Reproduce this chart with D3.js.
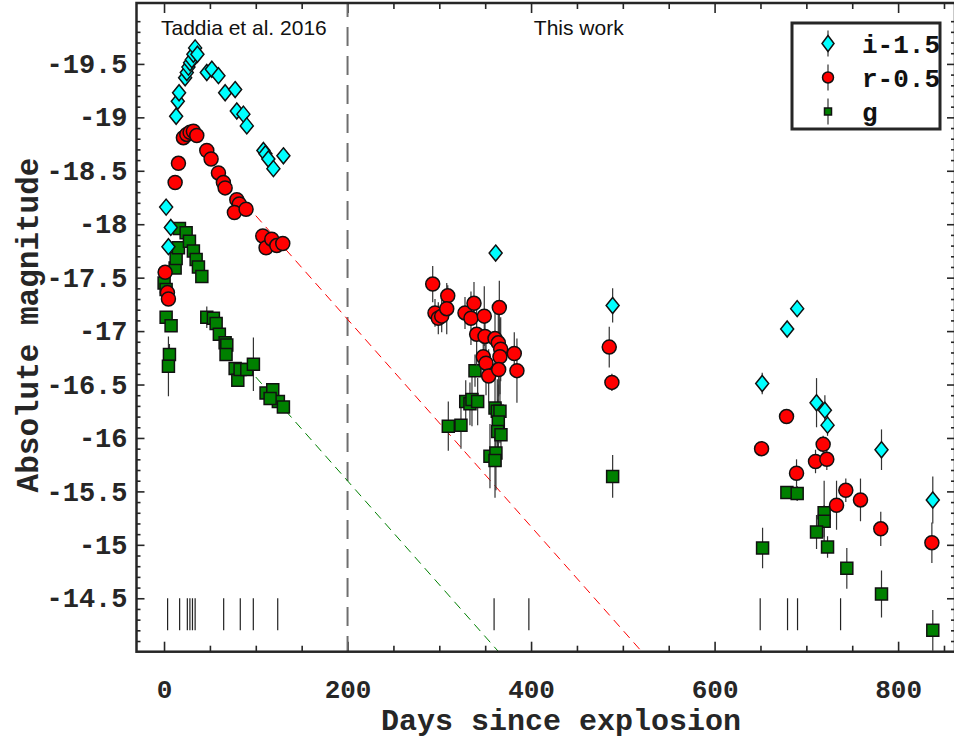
<!DOCTYPE html>
<meta charset="utf-8">
<style>

body {
  margin: 0;
  background: #fff;
}

svg {
  display: block;
}

.frame {
  fill: none;
  stroke: #262626;
  stroke-width: 2.5px;
}

.axis path {
  display: none;
}

.axis line {
  stroke: #262626;
  stroke-width: 1.6px;
}

.axis text {
  font-family: "Liberation Mono", "Courier New", monospace;
  font-weight: bold;
  font-size: 27px;
  fill: #262626;
}

.axis.xlab text {
  font-size: 26px;
}

.title {
  font-family: "Liberation Mono", "Courier New", monospace;
  font-weight: bold;
  font-size: 31px;
  fill: #262626;
}

.note {
  font-family: "Liberation Sans", Arial, sans-serif;
  font-size: 21px;
  fill: #111;
}

.err {
  stroke: #333;
  stroke-width: 1.2px;
}

.mark {
  stroke: #111;
  stroke-width: 1.5px;
}

.legend text {
  font-family: "Liberation Mono", "Courier New", monospace;
  font-weight: bold;
  font-size: 26px;
  fill: #111;
}

</style>
<body>
<script src="https://d3js.org/d3.v7.min.js"></script>
<script>

// i band, shifted by -1.5
var iDays = [2.3, 7.4, 4.8, 13.2, 15.0, 16.4, 23.0, 24.8, 26.6, 28.4, 30.3, 32.0, 33.9, 36.4,
             46.6, 52.1, 59.3, 66.6, 77.5, 79.3, 86.5, 90.2, 108.3, 110.5, 113.7, 119.2, 130.1,
             361.4, 488.9, 651.9, 679.1, 690.0, 711.1, 720.2, 723.1, 781.9, 837.8];
var iMag = [-18.16, -17.97, -17.79, -19.01, -19.15, -19.23, -19.37, -19.42, -19.47, -19.51, -19.54, -19.59, -19.65, -19.59,
            -19.42, -19.45, -19.39, -19.23, -19.26, -19.06, -19.03, -18.92, -18.69, -18.66, -18.61, -18.52, -18.64,
            -17.73, -17.24, -16.51, -17.02, -17.21, -16.33, -16.26, -16.12, -15.89, -15.42];
var iErr = [0.03, 0.03, 0.03, 0.03, 0.03, 0.03, 0.03, 0.03, 0.03, 0.03, 0.03, 0.03, 0.03, 0.03,
            0.03, 0.03, 0.03, 0.03, 0.03, 0.03, 0.03, 0.03, 0.03, 0.03, 0.03, 0.03, 0.03,
            0.05, 0.16, 0.10, 0.05, 0.05, 0.23, 0.14, 0.10, 0.19, 0.22];

// r band, shifted by -0.5
var rDays = [1.2, 3.7, 4.8, 12.1, 15.7, 21.1, 24.8, 28.4, 32.0, 35.7, 46.6, 51.3, 59.3, 64.7, 66.6,
             79.3, 82.1, 76.7, 89.4, 107.6, 111.2, 117.4, 122.9, 129.4,
             292.8, 309.2, 295.3, 298.9, 302.6, 308.1, 328.0, 334.5, 337.8, 349.0, 340.7, 349.8, 360.7,
             365.4, 364.3, 366.9, 366.1, 347.9, 350.9, 353.8, 364.7, 381.7, 384.6,
             485.2, 488.1, 651.2, 678.4, 689.3, 718.3, 710.0, 722.3, 743.0, 732.9, 759.0, 781.1, 836.8];
var rMag = [-17.55, -17.36, -17.30, -18.39, -18.57, -18.81, -18.84, -18.86, -18.87, -18.83, -18.69, -18.61, -18.48, -18.39, -18.34,
            -18.23, -18.19, -18.11, -18.14, -17.89, -17.78, -17.86, -17.80, -17.82,
            -17.44, -17.33, -17.17, -17.12, -17.14, -17.21, -17.17, -17.12, -17.26, -17.14, -16.97, -16.95, -16.93,
            -17.22, -16.89, -16.83, -16.76, -16.76, -16.70, -16.58, -16.64, -16.79, -16.63,
            -16.85, -16.52, -15.90, -16.20, -15.67, -15.94, -15.78, -15.80, -15.51, -15.37, -15.42, -15.15, -15.02];
var rErr = [0.03, 0.03, 0.03, 0.03, 0.03, 0.03, 0.03, 0.03, 0.03, 0.03, 0.03, 0.03, 0.03, 0.03, 0.03,
            0.03, 0.03, 0.03, 0.03, 0.03, 0.03, 0.03, 0.03, 0.03,
            0.17, 0.10, 0.13, 0.15, 0.15, 0.24, 0.15, 0.25, 0.20, 0.28, 0.30, 0.20, 0.25,
            0.25, 0.30, 0.30, 0.35, 0.20, 0.30, 0.25, 0.25, 0.20, 0.30,
            0.19, 0.08, 0.04, 0.06, 0.13, 0.08, 0.11, 0.10, 0.11, 0.23, 0.20, 0.16, 0.19];

// g band
var gDays = [0.1, 2.3, 2.3, 7.7, 5.9, 4.8, 12.1, 13.2, 15.7, 16.8, 24.1, 27.7, 32.0, 35.0, 37.5,
             41.2, 46.6, 53.8, 56.8, 60.3, 66.6, 68.4, 67.6, 77.5, 80.4, 82.9, 90.2, 97.4, 111.2, 118.5,
             124.6, 130.1, 115.6,
             338.9, 309.8, 323.6, 328.8, 333.4, 335.6, 341.8, 360.7, 363.2, 366.1, 364.3, 363.6, 367.2,
             355.2, 361.7, 360.7,
             488.9, 652.3, 678.8, 690.0, 719.4, 719.4, 711.1, 723.1, 744.1, 781.9, 837.8];
var gMag = [-17.45, -17.39, -17.13, -17.05, -16.78, -16.67, -17.59, -17.68, -17.78, -17.96, -17.92, -17.84, -17.75, -17.67, -17.60,
            -17.51, -17.13, -17.12, -17.07, -16.97, -16.89, -16.87, -16.78, -16.65, -16.54, -16.64, -16.64, -16.69, -16.42, -16.45,
            -16.34, -16.29, -16.37,
            -16.63, -16.11, -16.12, -16.34, -16.32, -16.36, -16.34, -16.28, -16.25, -16.25, -16.15, -16.06, -16.03,
            -15.83, -15.86, -15.79,
            -15.64, -14.97, -15.49, -15.48, -15.30, -15.22, -15.12, -14.98, -14.78, -14.54, -14.20];
var gErr = [0.03, 0.03, 0.03, 0.03, 0.10, 0.28, 0.03, 0.03, 0.03, 0.03, 0.03, 0.03, 0.03, 0.03, 0.03,
            0.03, 0.10, 0.03, 0.03, 0.03, 0.03, 0.03, 0.03, 0.03, 0.03, 0.03, 0.03, 0.25, 0.03, 0.03,
            0.03, 0.03, 0.03,
            0.15, 0.23, 0.22, 0.20, 0.20, 0.25, 0.22, 0.30, 0.30, 0.30, 0.35, 0.30, 0.30,
            0.30, 0.35, 0.35,
            0.20, 0.19, 0.04, 0.07, 0.30, 0.15, 0.16, 0.10, 0.19, 0.22, 0.19];

// epochs of spectra (short vertical lines along the bottom)
var epochDays = [3.9, 17.0, 25.4, 28.2, 31.0, 33.9, 65.0, 83.1, 97.3, 123.9, 359.7, 397.6, 649.7, 679.5, 690.4, 737.3];
var epochMag = [-14.5, -14.2];

// Co decay reference lines: [day, mag] end points
var decayR = [[100, -18.08], [530, -13.91]];
var decayG = [[100, -16.57], [380, -13.85]];

var splitDay = 200;

var xTicks = [0, 200, 400, 600, 800];
var yTicks = [-19.5, -19, -18.5, -18, -17.5, -17, -16.5, -16, -15.5, -15, -14.5];
var yTickLabels = ["-19.5", "-19", "-18.5", "-18", "-17.5", "-17", "-16.5", "-16", "-15.5", "-15", "-14.5"];

var legendLabels = ["i-1.5", "r-0.5", "g"];

var width = 954,
    height = 739;

var x = d3.scaleLinear().domain([-30, 862]).range([136.5, 955]);
var y = d3.scaleLinear().domain([-14, -20.07]).range([651.7, 3]);

var svg = d3.select("body").append("svg")
    .attr("width", width)
    .attr("height", height);

svg.append("defs").append("clipPath")
    .attr("id", "plot")
  .append("rect")
    .attr("x", x.range()[0])
    .attr("y", y.range()[1])
    .attr("width", x.range()[1] - x.range()[0])
    .attr("height", y.range()[0] - y.range()[1]);

// minor ticks
var xMinor = d3.range(-0, 862, 50).filter(function(d) { return xTicks.indexOf(d) < 0; });
var yMinor = d3.range(-200, -139, 1).map(function(d) { return d / 10; })
    .filter(function(d) { return Math.abs(d * 2 - Math.round(d * 2)) > 1e-6; });

function tickAxis(axis, tr) {
  return svg.append("g").attr("class", "axis").attr("transform", tr).call(axis);
}

var y0 = y.range()[0], y1 = y.range()[1], x0 = x.range()[0], x1 = x.range()[1];

tickAxis(d3.axisBottom(x).tickValues(xTicks).tickSizeInner(-10).tickSizeOuter(0).tickPadding(28).tickFormat(d3.format("d")), "translate(0," + y0 + ")")
    .classed("xlab", true);
tickAxis(d3.axisBottom(x).tickValues(xMinor).tickSizeInner(-6).tickSizeOuter(0).tickFormat(""), "translate(0," + y0 + ")");
tickAxis(d3.axisTop(x).tickValues(xTicks).tickSizeInner(-10).tickSizeOuter(0).tickFormat(""), "translate(0," + y1 + ")");
tickAxis(d3.axisTop(x).tickValues(xMinor).tickSizeInner(-6).tickSizeOuter(0).tickFormat(""), "translate(0," + y1 + ")");
tickAxis(d3.axisLeft(y).tickValues(yTicks).tickSizeInner(-8).tickSizeOuter(0).tickPadding(9)
    .tickFormat(function(d, i) { return yTickLabels[i]; }), "translate(" + x0 + ",0)");
tickAxis(d3.axisLeft(y).tickValues(yMinor).tickSizeInner(-4).tickSizeOuter(0).tickFormat(""), "translate(" + x0 + ",0)");
tickAxis(d3.axisRight(y).tickValues(yTicks).tickSizeInner(-8).tickSizeOuter(0).tickFormat(""), "translate(" + x1 + ",0)");
tickAxis(d3.axisRight(y).tickValues(yMinor).tickSizeInner(-4).tickSizeOuter(0).tickFormat(""), "translate(" + x1 + ",0)");

var plot = svg.append("g").attr("clip-path", "url(#plot)");

// split between literature and new data
plot.append("line")
    .attr("x1", x(splitDay)).attr("x2", x(splitDay))
    .attr("y1", y1).attr("y2", y0)
    .attr("stroke", "#6e6e6e")
    .attr("stroke-width", 2)
    .attr("stroke-dasharray", "19,10")
    .attr("stroke-dashoffset", 5);

var line = d3.line().x(function(d) { return x(d[0]); }).y(function(d) { return y(d[1]); });

plot.append("path").datum(decayR)
    .attr("d", line)
    .attr("fill", "none")
    .attr("stroke", "#ff0000")
    .attr("stroke-width", 1)
    .attr("stroke-dasharray", "9,6");

plot.append("path").datum(decayG)
    .attr("d", line)
    .attr("fill", "none")
    .attr("stroke", "#008000")
    .attr("stroke-width", 1)
    .attr("stroke-dasharray", "9,6");

// spectral epochs
plot.selectAll(".epoch")
    .data(epochDays).enter()
  .append("line")
    .attr("class", "epoch")
    .attr("x1", function(d) { return x(d); })
    .attr("x2", function(d) { return x(d); })
    .attr("y1", y(epochMag[0]))
    .attr("y2", y(epochMag[1]))
    .attr("stroke", "#222")
    .attr("stroke-width", 1.2);

var diamond = "M0,-8L6.5,0L0,8L-6.5,0Z",
    square = "M-6,-6H6V6H-6Z",
    circle = d3.symbol().type(d3.symbolCircle).size(Math.PI * 7 * 7)();

var series = [
  {days: gDays, mag: gMag, err: gErr, shape: square, color: "#008000"},
  {days: rDays, mag: rMag, err: rErr, shape: circle, color: "#ff0000"},
  {days: iDays, mag: iMag, err: iErr, shape: diamond, color: "#00ffff"}
];

series.forEach(function(s) {
  var pts = s.days.map(function(d, i) { return {d: d, m: s.mag[i], e: s.err[i]}; });
  var g = plot.append("g");
  g.selectAll(".err")
      .data(pts).enter()
    .append("line")
      .attr("class", "err")
      .attr("x1", function(p) { return x(p.d); })
      .attr("x2", function(p) { return x(p.d); })
      .attr("y1", function(p) { return y(p.m - p.e); })
      .attr("y2", function(p) { return y(p.m + p.e); });
  g.selectAll(".mark")
      .data(pts).enter()
    .append("path")
      .attr("class", "mark")
      .attr("d", s.shape)
      .attr("fill", s.color)
      .attr("transform", function(p) { return "translate(" + x(p.d) + "," + y(p.m) + ")"; });
});

svg.append("rect")
    .attr("class", "frame")
    .attr("x", x0)
    .attr("y", y1)
    .attr("width", x1 - x0)
    .attr("height", y0 - y1);

// annotations
svg.append("text").attr("class", "note")
    .attr("x", x(87)).attr("y", 35)
    .attr("text-anchor", "middle")
    .text("Taddia et al. 2016");

svg.append("text").attr("class", "note")
    .attr("x", x(452)).attr("y", 35)
    .attr("text-anchor", "middle")
    .text("This work");

// axis titles
svg.append("text").attr("class", "title")
    .attr("x", 561).attr("y", 730)
    .attr("text-anchor", "middle")
    .style("font-size", "30px")
    .text("Days since explosion");

svg.append("text").attr("class", "title")
    .attr("transform", "translate(38,325) rotate(-90)")
    .attr("text-anchor", "middle")
    .text("Absolute magnitude");

// legend
var legend = svg.append("g").attr("class", "legend");

legend.append("rect")
    .attr("x", 792).attr("y", 23)
    .attr("width", 148).attr("height", 106)
    .attr("fill", "#fff")
    .attr("stroke", "#262626")
    .attr("stroke-width", 3);

var legendShapes = [
  {shape: "M0,-8L6,0L0,8L-6,0Z", color: "#00ffff"},
  {shape: d3.symbol().type(d3.symbolCircle).size(Math.PI * 5.5 * 5.5)(), color: "#ff0000"},
  {shape: "M-3.5,-3.5H3.5V3.5H-3.5Z", color: "#008000"}
];

legendLabels.forEach(function(label, i) {
  var cy = 43.5 + i * 34;
  legend.append("line")
      .attr("x1", 828).attr("x2", 828)
      .attr("y1", cy - 13).attr("y2", cy + 13)
      .attr("stroke", "#333").attr("stroke-width", 1.2);
  legend.append("path")
      .attr("d", legendShapes[i].shape)
      .attr("fill", legendShapes[i].color)
      .attr("stroke", "#111")
      .attr("stroke-width", 1.5)
      .attr("transform", "translate(828," + cy + ")");
  legend.append("text")
      .attr("x", 862).attr("y", cy + 9)
      .text(label);
});

</script>
